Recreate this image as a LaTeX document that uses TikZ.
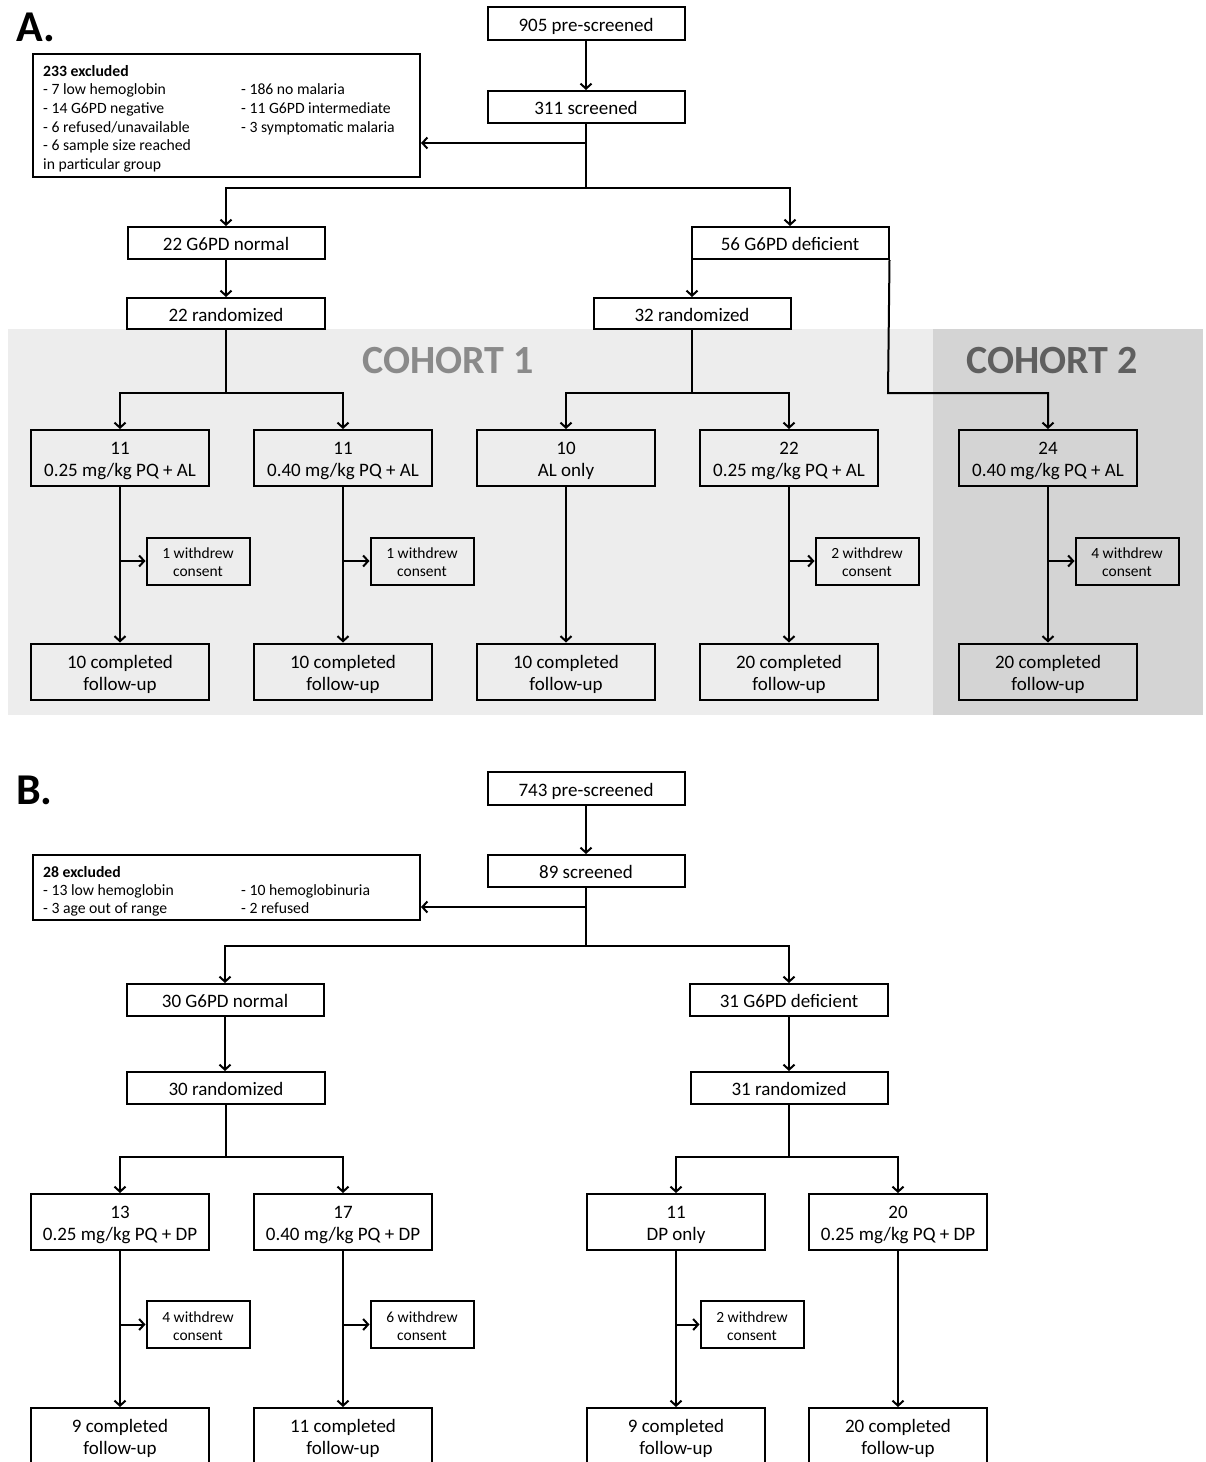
\documentclass[tikz,border=0pt]{standalone}
\usepackage{fontspec}
\setmainfont{Carlito}
\usetikzlibrary{arrows.meta}
\definecolor{bgone}{HTML}{EDEDED}
\definecolor{bgtwo}{HTML}{D4D4D4}
\definecolor{cohortone}{HTML}{8A8A8A}
\definecolor{cohorttwo}{HTML}{5F5F5F}
\newcommand\gtxt[2]{\rule{0pt}{18.5pt}#1\\#2}
\newcommand\wtxt[2]{\rule{0pt}{14pt}#1\\#2}
\begin{document}
\begin{tikzpicture}[x=1pt,y=-1pt,
  box/.style={draw=black, line width=2pt, inner sep=0pt, align=center,
    font=\fontsize{19}{22}\selectfont},
  topbox/.style={box, minimum width=197pt, minimum height=32pt,
    execute at begin node={\rule{0pt}{19pt}},
    execute at end node={\rule[-4pt]{0pt}{4pt}}},
  grpbox/.style={box, minimum width=178pt, minimum height=56pt},
  wbox/.style={draw=black, line width=2pt, inner sep=0pt, align=center,
    minimum width=103pt, minimum height=47pt,
    font=\fontsize{15.5}{18}\selectfont},
  exbox/.style={draw=black, line width=2pt, inner sep=0pt},
  arr/.style={line width=2pt, -{Straight Barb[length=5pt,width=11pt,line width=2pt]}},
  ln/.style={line width=2pt},
  etext/.style={inner sep=0pt, anchor=west, font=\fontsize{15.7}{18}\selectfont,
    text height=12pt, text depth=0pt},
  panel/.style={inner sep=0pt, anchor=west, font=\fontsize{44}{44}\selectfont\bfseries},
  cohort/.style={inner sep=0pt, font=\fontsize{40}{40}\selectfont\bfseries}
]
\useasboundingbox (0,0) rectangle (1205,1462);
\clip (0,0) rectangle (1205,1462);

% ---------- backgrounds ----------
\fill[bgone] (8,329) rectangle (933,715);
\fill[bgtwo] (933,329) rectangle (1203,715);
\node[cohort, text=cohortone] (co1) at (448,361) {COHORT 1};
\node[cohort, text=cohorttwo] (co2) at (1052,361) {COHORT 2};

% ---------- panel labels ----------
\node[panel] (labA) at (16,27) {A.};
\node[panel] (labB) at (16,790) {B.};

% ================= PANEL A =================
\node[topbox, minimum height=33pt] (preA) at (586,23.5) {905 pre-screened};
\node[topbox] (scrA) at (586,107) {311 screened};
\node[exbox, minimum width=387pt, minimum height=123pt] (excA) at (226.5,115.5) {};
\node[etext] (eA0) at (43,70) {\textbf{233 excluded}};
\node[etext] (eA1) at (43,88) {- 7 low hemoglobin};
\node[etext] (eA2) at (43,107) {- 14 G6PD negative};
\node[etext] (eA3) at (43,126) {- 6 refused/unavailable};
\node[etext] (eA4) at (43,144) {- 6 sample size reached};
\node[etext] (eA5) at (43,163) {in particular group};
\node[etext] (eA6) at (241,88) {- 186 no malaria};
\node[etext] (eA7) at (241,107) {- 11 G6PD intermediate};
\node[etext] (eA8) at (241,126) {- 3 symptomatic malaria};

\node[topbox] (normA) at (226,243) {22 G6PD normal};
\node[topbox] (defA) at (790,243) {56 G6PD deficient};
\node[topbox, minimum width=198pt, minimum height=31pt] (rnA) at (226,313.5) {22 randomized};
\node[topbox, minimum height=31pt] (rdA) at (692,313.5) {32 randomized};

\node[grpbox] (gA1) at (120,458) {\gtxt{11}{0.25 mg/kg PQ + AL}};
\node[grpbox] (gA2) at (343,458) {\gtxt{11}{0.40 mg/kg PQ + AL}};
\node[grpbox] (gA3) at (566,458) {\gtxt{10}{AL only}};
\node[grpbox] (gA4) at (789,458) {\gtxt{22}{0.25 mg/kg PQ + AL}};
\node[grpbox] (gA5) at (1048,458) {\gtxt{24}{0.40 mg/kg PQ + AL}};

\node[wbox] (wA1) at (198,561) {\wtxt{1 withdrew}{consent}};
\node[wbox] (wA2) at (422,561) {\wtxt{1 withdrew}{consent}};
\node[wbox] (wA4) at (867,561) {\wtxt{2 withdrew}{consent}};
\node[wbox] (wA5) at (1127,561) {\wtxt{4 withdrew}{consent}};

\node[grpbox] (fA1) at (120,671.5) {\gtxt{10 completed}{follow-up}};
\node[grpbox] (fA2) at (343,671.5) {\gtxt{10 completed}{follow-up}};
\node[grpbox] (fA3) at (566,671.5) {\gtxt{10 completed}{follow-up}};
\node[grpbox] (fA4) at (789,671.5) {\gtxt{20 completed}{follow-up}};
\node[grpbox] (fA5) at (1048,671.5) {\gtxt{20 completed}{follow-up}};

\coordinate (exA) at (586,143);
\coordinate (jA) at (586,188);
\coordinate (kA1) at (226,393);
\coordinate (kA2) at (692,393);
\coordinate (kA3) at (888,393);

\draw[arr] (preA) -- (scrA);
\draw[ln] (scrA) -- (jA);
\draw[arr] (exA) -- (exA -| excA.east);
\draw[arr] (jA) -| (normA.north);
\draw[arr] (jA) -| (defA.north);
\draw[arr] (normA) -- (normA.south |- rnA.north);
\draw[arr] (rdA.north |- defA.south) -- (rdA.north);
\draw[arr] (defA.south east) -- (kA3) -| (gA5.north);
\draw[ln] (rnA) -- (kA1);
\draw[arr] (kA1) -| (gA1.north);
\draw[arr] (kA1) -| (gA2.north);
\draw[ln] (rdA) -- (kA2);
\draw[arr] (kA2) -| (gA3.north);
\draw[arr] (kA2) -| (gA4.north);
\foreach \i in {1,...,5} {\draw[arr] (gA\i) -- (fA\i);}
\foreach \i in {1,2,4,5} {\draw[arr] (wA\i.west -| gA\i.south) -- (wA\i.west);}

% ================= PANEL B =================
\node[topbox, minimum height=33pt] (preB) at (586,788.5) {743 pre-screened};
\node[topbox] (scrB) at (586,871) {89 screened};
\node[exbox, minimum width=387pt, minimum height=65pt] (excB) at (226.5,887.5) {};
\node[etext] (eB0) at (43,871) {\textbf{28 excluded}};
\node[etext] (eB1) at (43,889) {- 13 low hemoglobin};
\node[etext] (eB2) at (43,907) {- 3 age out of range};
\node[etext] (eB3) at (241,889) {- 10 hemoglobinuria};
\node[etext] (eB4) at (241,907) {- 2 refused};

\node[topbox] (normB) at (225,1000) {30 G6PD normal};
\node[topbox, minimum width=198pt] (defB) at (789,1000) {31 G6PD deficient};
\node[topbox, minimum width=198pt] (rnB) at (226,1088) {30 randomized};
\node[topbox] (rdB) at (789,1088) {31 randomized};

\node[grpbox] (gB1) at (120,1222) {\gtxt{13}{0.25 mg/kg PQ + DP}};
\node[grpbox] (gB2) at (343,1222) {\gtxt{17}{0.40 mg/kg PQ + DP}};
\node[grpbox] (gB3) at (676,1222) {\gtxt{11}{DP only}};
\node[grpbox] (gB4) at (898,1222) {\gtxt{20}{0.25 mg/kg PQ + DP}};

\node[wbox] (wB1) at (198,1324.5) {\wtxt{4 withdrew}{consent}};
\node[wbox] (wB2) at (422,1324.5) {\wtxt{6 withdrew}{consent}};
\node[wbox] (wB3) at (752,1324.5) {\wtxt{2 withdrew}{consent}};

\node[grpbox] (fB1) at (120,1436) {\gtxt{9 completed}{follow-up}};
\node[grpbox] (fB2) at (343,1436) {\gtxt{11 completed}{follow-up}};
\node[grpbox] (fB3) at (676,1436) {\gtxt{9 completed}{follow-up}};
\node[grpbox] (fB4) at (898,1436) {\gtxt{20 completed}{follow-up}};

\coordinate (exB) at (586,907);
\coordinate (jB) at (586,946);
\coordinate (kB1) at (226,1157);
\coordinate (kB2) at (789,1157);

\draw[arr] (preB) -- (scrB);
\draw[ln] (scrB) -- (jB);
\draw[arr] (exB) -- (exB -| excB.east);
\draw[arr] (jB) -| (normB.north);
\draw[arr] (jB) -| (defB.north);
\draw[arr] (normB) -- (normB.south |- rnB.north);
\draw[arr] (defB) -- (defB.south |- rdB.north);
\draw[ln] (rnB) -- (kB1);
\draw[arr] (kB1) -| (gB1.north);
\draw[arr] (kB1) -| (gB2.north);
\draw[ln] (rdB) -- (kB2);
\draw[arr] (kB2) -| (gB3.north);
\draw[arr] (kB2) -| (gB4.north);
\foreach \i in {1,...,4} {\draw[arr] (gB\i) -- (fB\i);}
\foreach \i in {1,2,3} {\draw[arr] (wB\i.west -| gB\i.south) -- (wB\i.west);}
\end{tikzpicture}
\end{document}
